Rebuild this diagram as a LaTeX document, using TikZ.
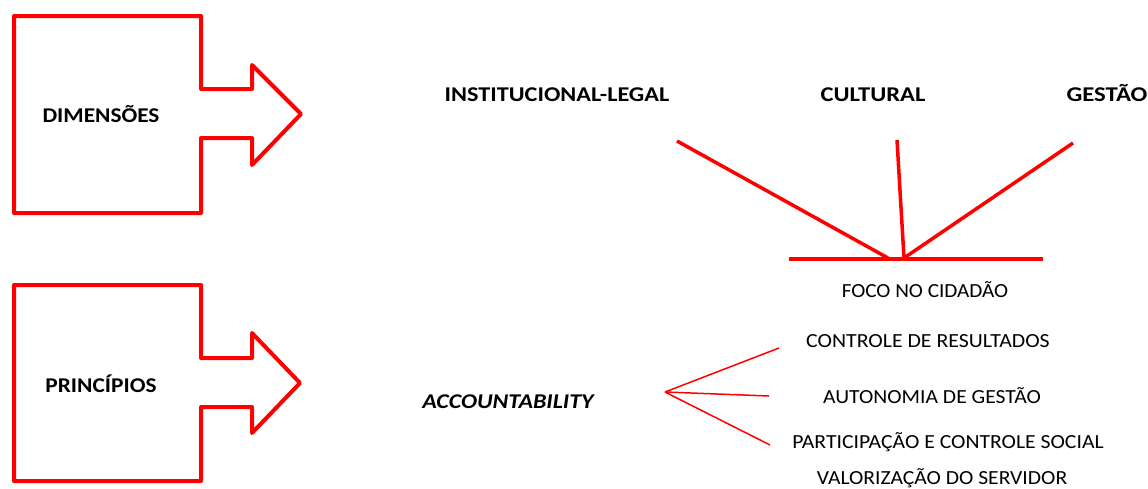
\documentclass[tikz,border=0pt]{standalone}
\usepackage{graphicx}
\usepackage{fontspec}
\setmainfont{Carlito}
\newcommand\hstretch[2]{\scalebox{#1}[1]{#2}}
\begin{document}
\begin{tikzpicture}[x=1pt,y=-1pt,
  bigarrow/.style={draw=red,line width=4pt,line join=round,line cap=round},
  ray/.style={draw=red,line width=3.5pt},
  thinray/.style={draw=red,line width=1.5pt},
  head/.style={font=\fontsize{21}{24}\selectfont\bfseries,anchor=base,inner sep=0pt},
  item/.style={font=\fontsize{20}{24}\selectfont,anchor=base,inner sep=0pt}]
\useasboundingbox (0,0) rectangle (1148,488);
% arrows
\draw[bigarrow] (14,16) -- (201,16) -- (201,89) -- (252,89) -- (252,65) -- (301,114)
  -- (252,165) -- (252,138) -- (201,138) -- (201,213) -- (14,213) -- cycle;
\draw[bigarrow] (14,285) -- (201,285) -- (201,358) -- (252,358) -- (252,333) -- (300,383)
  -- (252,433) -- (252,407) -- (201,407) -- (201,481) -- (14,481) -- cycle;
\node[head] (dim) at (101,122) {\hstretch{1.11}{DIMENSÕES}};
\node[head] (pri) at (101,392) {\hstretch{1.11}{PRINCÍPIOS}};
% dimensions
\node[head] (inst) at (557,101) {\hstretch{1.155}{INSTITUCIONAL-LEGAL}};
\node[head] (cult) at (873,101) {\hstretch{1.17}{CULTURAL}};
\node[head] (gest) at (1107,101) {\hstretch{1.18}{GESTÃO}};
\coordinate (l1) at (677,141);
\coordinate (l2) at (888,258);
\coordinate (m1) at (897,140);
\coordinate (m2) at (904,258);
\coordinate (r1) at (1073,143);
\coordinate (hl) at (789,259);
\coordinate (hr) at (1043,259);
\draw[ray] (l1) -- (l2);
\draw[ray] (m1) -- (m2);
\draw[ray] (r1) -- (m2);
\draw[ray] (hl) -- (hr);
\node[item] (foco) at (925,297) {\hstretch{1.06}{FOCO NO CIDADÃO}};
% principles
\node[head,font=\fontsize{21}{24}\selectfont\bfseries\itshape] (acc) at (508,408) {\hstretch{1.14}{ACCOUNTABILITY}};
\coordinate (o) at (665,392);
\coordinate (a1) at (779,348);
\coordinate (a2) at (769,396);
\coordinate (a3) at (770,445);
\draw[thinray] (o) -- (a1);
\draw[thinray] (o) -- (a2);
\draw[thinray] (o) -- (a3);
\node[item] (ctrl) at (928,347) {\hstretch{1.09}{CONTROLE DE RESULTADOS}};
\node[item] (auto) at (932,403) {\hstretch{1.08}{AUTONOMIA DE GESTÃO}};
\node[item] (part) at (948,448) {\hstretch{1.085}{PARTICIPAÇÃO E CONTROLE SOCIAL}};
\node[item] (valo) at (942,484) {\hstretch{1.08}{VALORIZAÇÃO DO SERVIDOR}};
\end{tikzpicture}
\end{document}
